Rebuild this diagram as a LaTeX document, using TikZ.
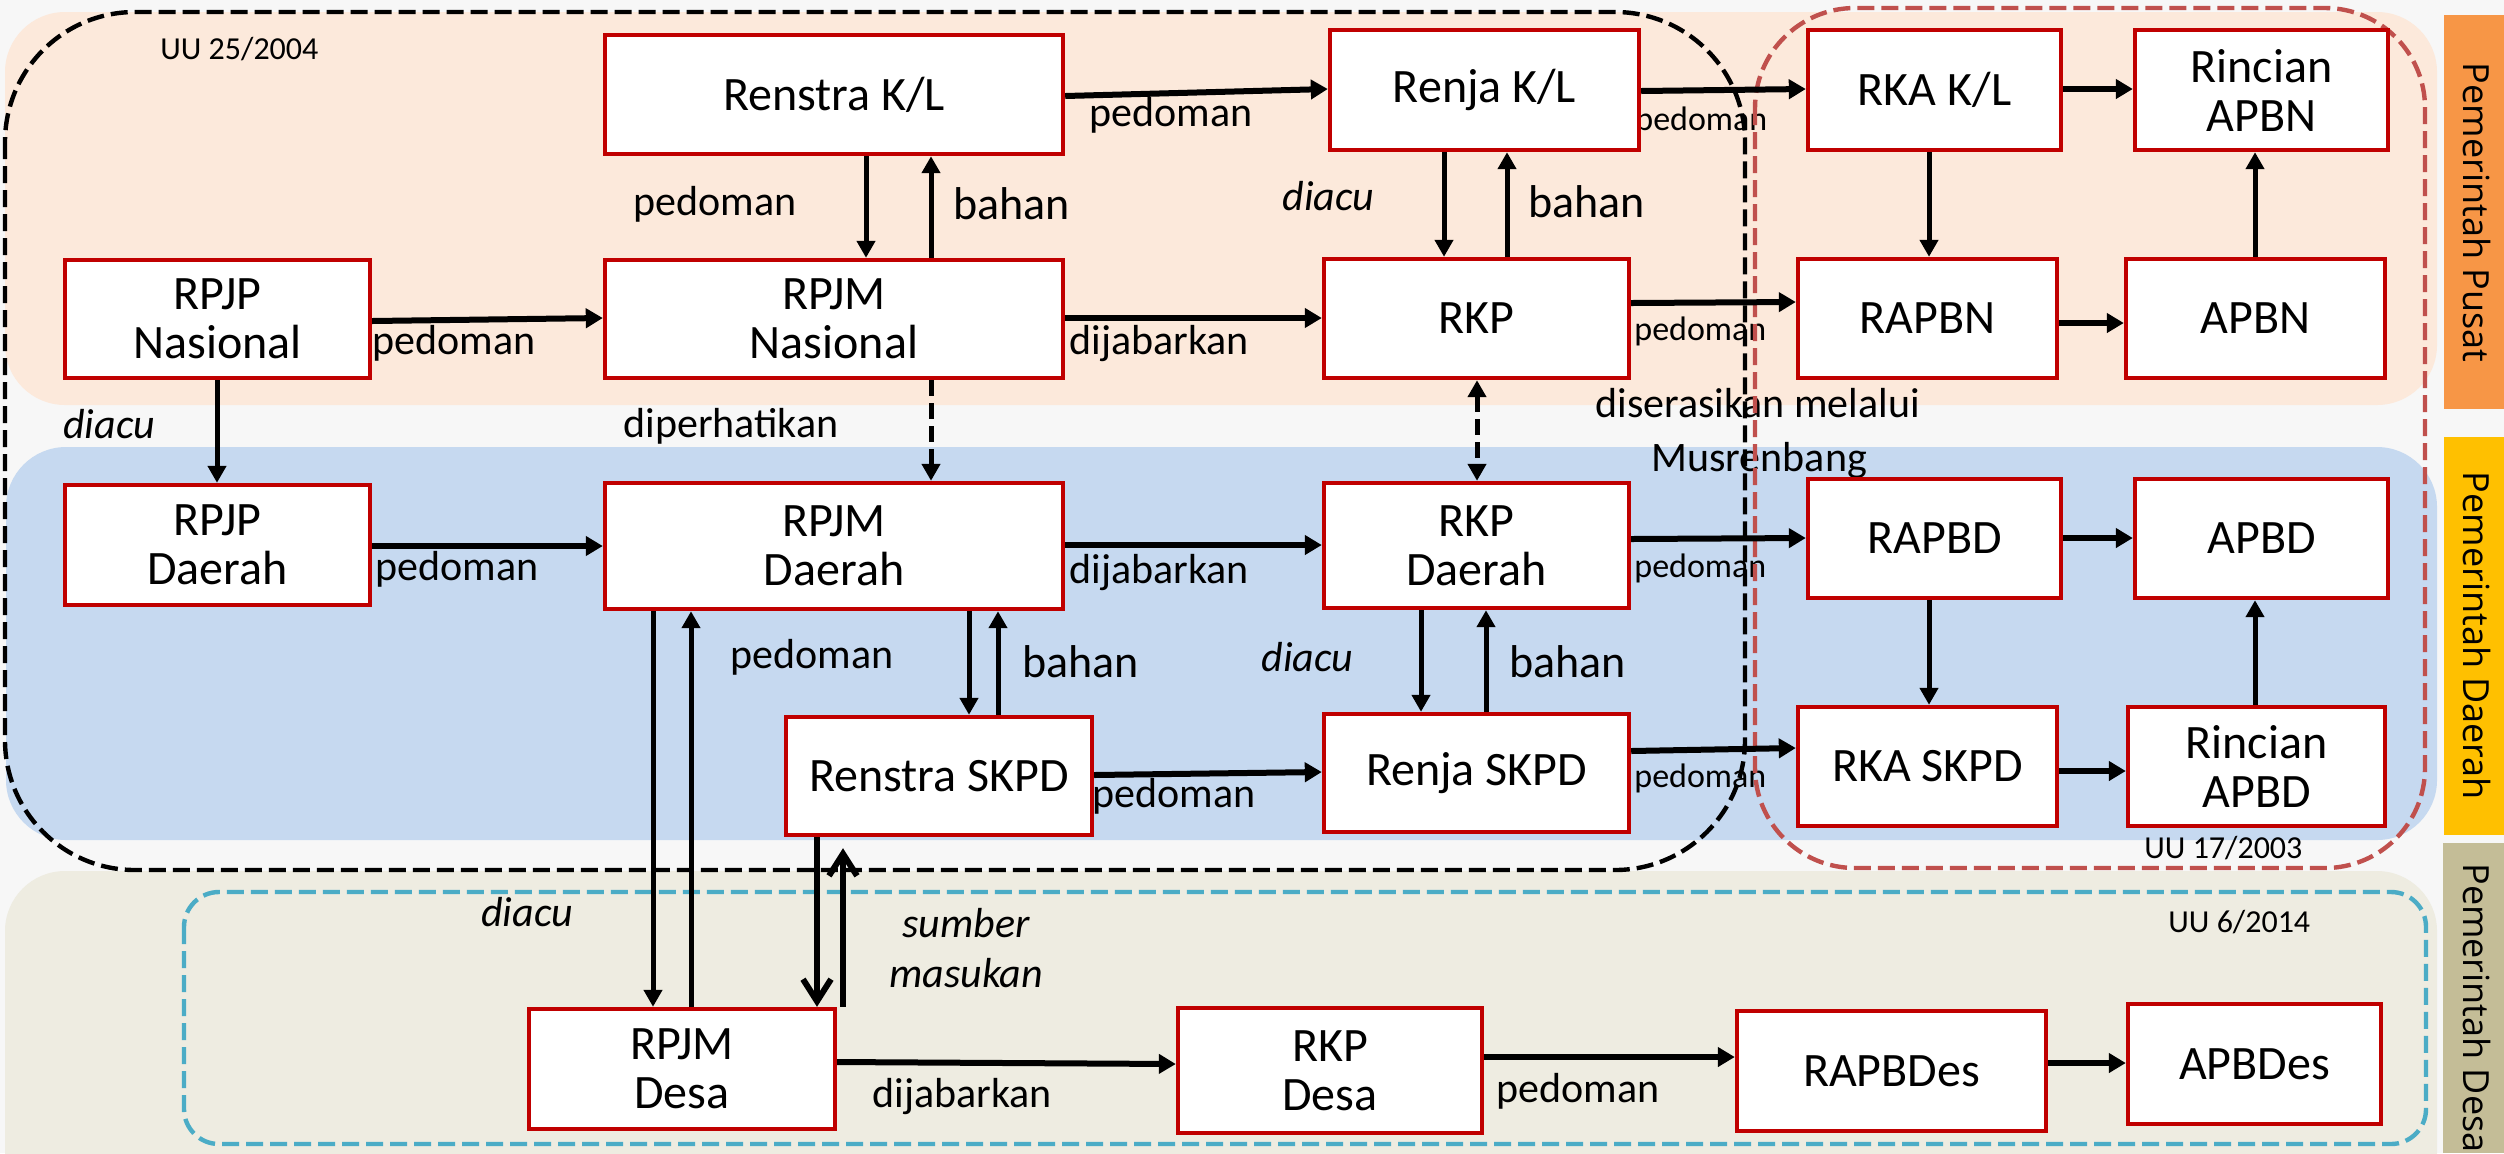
\documentclass[tikz,border=0pt]{standalone}
\usepackage{fontspec}
\setmainfont{Carlito}
\newfontfamily\sidefont{Open Sans}
\usetikzlibrary{arrows.meta}
\definecolor{bgc}{HTML}{F7F7F7}
\definecolor{peach}{HTML}{FCE9DB}
\definecolor{bluebg}{HTML}{C6D9F0}
\definecolor{beige}{HTML}{EEECE1}
\definecolor{orangeS}{HTML}{F79646}
\definecolor{yellowS}{HTML}{FFC000}
\definecolor{tanS}{HTML}{C4BD97}
\definecolor{boxred}{HTML}{C00000}
\definecolor{redframe}{HTML}{C0504D}
\definecolor{cyanframe}{HTML}{4BACC6}
\begin{document}
\begin{tikzpicture}[x=0.5pt,y=-0.5pt,
  box/.style={draw=boxred, line width=2.2pt, fill=white, align=center, inner sep=0pt,
    font=\fontsize{24}{24.5}\selectfont},
  lab/.style={inner sep=0pt, anchor=base west, font=\fontsize{21}{24}\selectfont},
  labsm/.style={lab, font=\fontsize{17}{19}\selectfont},
  labbh/.style={lab, font=\fontsize{23}{24}\selectfont},
  labit/.style={lab, font=\fontsize{21}{24}\selectfont\itshape},
  labuu/.style={lab, font=\fontsize{16}{18}\selectfont},
  side/.style={inner sep=0pt, rotate=-90, font=\sidefont\fontsize{18}{20}\selectfont},
  arr/.style={line width=2.5pt, -{Triangle[length=8.5pt,width=9pt]}},
  thk/.style={line width=3pt, -{Triangle[length=8.5pt,width=9.5pt]}},
  darr/.style={arr, dash pattern=on 8pt off 3.5pt},
  barb/.style={line width=3pt, -{Straight Barb[length=11pt,width=14pt]}},
  frame/.style={line width=2.2pt, dash pattern=on 8.5pt off 3.5pt}
]
\useasboundingbox (0,0) rectangle (2504,1153);
\clip (0,0) rectangle (2504,1153);
% backgrounds
\fill[bgc] (0,0) rectangle (2504,1153);
\fill[peach, rounded corners=30pt] (5,12) rectangle (2437,405);
\fill[bluebg, rounded corners=30pt] (6,447) rectangle (2437,840);
\fill[beige, rounded corners=30pt] (5,871) rectangle (2437,1220);
\fill[orangeS] (2444,15) rectangle (2504,409);
\fill[yellowS] (2444,437) rectangle (2504,835);
\fill[tanS] (2443,843) rectangle (2504,1153);
\node[side] (sPusat) at (2477,212.5) {Pemerintah Pusat};
\node[side] (sDaerah) at (2477,636) {Pemerintah Daerah};
\node[side] (sDesa) at (2477,1008) {Pemerintah Desa};

% labels
\node[labuu] (l1) at (160,59) {UU 25/2004};
\node[lab] (l2) at (1089,126) {pedoman};
\node[labsm] (l3) at (1635,130) {pedoman};
\node[lab] (l4) at (633,215) {pedoman};
\node[labbh] (l5) at (953,219) {bahan};
\node[labit] (l6) at (1282,210) {diacu};
\node[labbh] (l7) at (1528,217) {bahan};
\node[lab] (l8) at (372,354) {pedoman};
\node[lab] (l9) at (1069,354) {dijabarkan};
\node[labsm] (l10) at (1634,340) {pedoman};
\node[labit] (l11) at (63,438) {diacu};
\node[lab] (l12) at (623,437) {diperhatikan};
\node[lab] (l13) at (1595,417) {diserasikan melalui};
\node[lab] (l14) at (1651,471) {Musrenbang};
\node[lab] (l15) at (375,580) {pedoman};
\node[lab] (l16) at (1069,583) {dijabarkan};
\node[labsm] (l17) at (1634,577) {pedoman};
\node[lab] (l18) at (730,668) {pedoman};
\node[labbh] (l19) at (1022,677) {bahan};
\node[labit] (l20) at (1261,671) {diacu};
\node[labbh] (l21) at (1509,677) {bahan};
\node[lab] (l22) at (1092,807) {pedoman};
\node[labsm] (l23) at (1634,787) {pedoman};
\node[labuu] (l24) at (2144,858) {UU 17/2003};
\node[labit] (l25) at (481,926) {diacu};
\node[labit] (l26) at (902,937) {sumber};
\node[labit] (l27) at (889,987) {masukan};
\node[labuu] (l28) at (2168,932) {UU 6/2014};
\node[lab] (l29) at (872,1107) {dijabarkan};
\node[lab] (l30) at (1496,1102) {pedoman};

% dashed frames
\draw[frame, black, rounded corners=65pt] (5,12) rectangle (1745,870);
\draw[frame, redframe, rounded corners=50pt] (1755,8) rectangle (2425,868);
\draw[frame, cyanframe, rounded corners=17.5pt] (184,892) rectangle (2426,1144);

% boxes
\node[box, minimum width=229pt, minimum height=59.5pt] (renstraKL) at (834,94.5) {Renstra K/L};
\node[box, minimum width=154.5pt, minimum height=60pt] (renjaKL) at (1484.5,90) {Renja K/L};
\node[box, minimum width=126.5pt, minimum height=60pt] (rkaKL) at (1934.5,90) {RKA K/L};
\node[box, minimum width=126.5pt, minimum height=60pt] (rincianAPBN) at (2261.5,90) {Rincian\\APBN};
\node[box, minimum width=152.5pt, minimum height=59pt] (rpjpNas) at (217.5,319) {RPJP\\Nasional};
\node[box, minimum width=229pt, minimum height=59pt] (rpjmNas) at (834,319) {RPJM\\Nasional};
\node[box, minimum width=152.5pt, minimum height=59.5pt] (rkp) at (1476.5,318.5) {RKP};
\node[box, minimum width=129.5pt, minimum height=59.5pt] (rapbn) at (1927.5,318.5) {RAPBN};
\node[box, minimum width=129.5pt, minimum height=59.5pt] (apbn) at (2255.5,318.5) {APBN};
\node[box, minimum width=152.5pt, minimum height=60pt] (rpjpDae) at (217.5,545) {RPJP\\Daerah};
\node[box, minimum width=229pt, minimum height=63pt] (rpjmDae) at (834,546) {RPJM\\Daerah};
\node[box, minimum width=152.5pt, minimum height=62.5pt] (rkpDae) at (1476.5,545.5) {RKP\\Daerah};
\node[box, minimum width=126.5pt, minimum height=59.5pt] (rapbd) at (1934.5,538.5) {RAPBD};
\node[box, minimum width=126.5pt, minimum height=59.5pt] (apbd) at (2261.5,538.5) {APBD};
\node[box, minimum width=153pt, minimum height=59pt] (renstraSKPD) at (939,776) {Renstra SKPD};
\node[box, minimum width=152.5pt, minimum height=59pt] (renjaSKPD) at (1476.5,773) {Renja SKPD};
\node[box, minimum width=129.5pt, minimum height=59.5pt] (rkaSKPD) at (1927.5,766.5) {RKA SKPD};
\node[box, minimum width=128.5pt, minimum height=59.5pt] (rincianAPBD) at (2256.5,766.5) {Rincian\\APBD};
\node[box, minimum width=153pt, minimum height=60pt] (rpjmDesa) at (682,1069) {RPJM\\Desa};
\node[box, minimum width=152pt, minimum height=62.5pt] (rkpDesa) at (1330,1070.5) {RKP\\Desa};
\node[box, minimum width=154.5pt, minimum height=60pt] (rapbdes) at (1891.5,1071) {RAPBDes};
\node[box, minimum width=126.5pt, minimum height=60pt] (apbdes) at (2254.5,1064) {APBDes};

% connectors
\draw[thk] ([yshift=-0.75pt]renstraKL.east) -- ([yshift=0.5pt]renjaKL.west);
\draw[thk] ([yshift=-0.5pt]renjaKL.east) -- ([yshift=0.5pt]rkaKL.west);
\draw[thk] ([yshift=0.5pt]rkaKL.east) -- ([yshift=0.5pt]rincianAPBN.west);
\draw[arr] ([xshift=16pt]renstraKL.south) -- ([xshift=16pt]rpjmNas.north);
\draw[arr] ([xshift=48.5pt]rpjmNas.north) -- ([xshift=48.5pt]renstraKL.south);
\draw[arr] ([xshift=-20.25pt]renjaKL.south) -- ([xshift=-16.25pt]rkp.north);
\draw[arr] ([xshift=15.25pt]rkp.north) -- ([xshift=11.25pt]renjaKL.south);
\draw[arr] ([xshift=-2.75pt]rkaKL.south) -- ([xshift=0.75pt]rapbn.north);
\draw[arr] ([xshift=-0.25pt]apbn.north) -- ([xshift=-3.25pt]rincianAPBN.south);
\draw[thk] ([yshift=-1pt]rpjpNas.east) -- ([yshift=0.5pt]rpjmNas.west);
\draw[thk] ([yshift=0.5pt]rpjmNas.east) -- ([yshift=0.25pt]rkp.west);
\draw[thk] ([yshift=7.75pt]rkp.east) -- ([yshift=8.25pt]rapbn.west);
\draw[thk] ([yshift=-2.25pt]rapbn.east) -- ([yshift=-2.25pt]apbn.west);
\draw[arr] ([xshift=-0.25pt]rpjpNas.south) -- ([xshift=-0.25pt]rpjpDae.north);
\draw[darr] ([xshift=48.5pt]rpjmNas.south) -- ([xshift=48.5pt]rpjmDae.north);
\draw[darr, {Triangle[length=8.5pt,width=9pt]}-{Triangle[length=8.5pt,width=9pt]}] ([xshift=0.25pt]rkp.south) -- ([xshift=0.25pt]rkpDae.north);
\draw[thk] ([yshift=-0.5pt]rpjpDae.east) -- (rpjmDae.west);
\draw[thk] ([yshift=0.5pt]rpjmDae.east) -- ([yshift=0.25pt]rkpDae.west);
\draw[thk] ([yshift=3.25pt]rkpDae.east) -- ([yshift=0.25pt]rapbd.west);
\draw[thk] ([yshift=0.25pt]rapbd.east) -- ([yshift=0.25pt]apbd.west);
\draw[arr] ([xshift=-2.75pt]rapbd.south) -- ([xshift=0.75pt]rkaSKPD.north);
\draw[arr] ([xshift=-0.75pt]rincianAPBD.north) -- ([xshift=-3.25pt]apbd.south);
\draw[arr] ([xshift=-27.75pt]rkpDae.south) -- ([xshift=-27.75pt]renjaSKPD.north);
\draw[arr] ([xshift=4.75pt]renjaSKPD.north) -- ([xshift=4.75pt]rkpDae.south);
\draw[arr] ([xshift=67.5pt]rpjmDae.south) -- ([xshift=15pt]renstraSKPD.north);
\draw[arr] ([xshift=29.5pt]renstraSKPD.north) -- ([xshift=82pt]rpjmDae.south);
\draw[thk] ([yshift=0.5pt]renstraSKPD.east) -- ([yshift=0.5pt]renjaSKPD.west);
\draw[thk] ([yshift=11pt]renjaSKPD.east) -- ([yshift=9.25pt]rkaSKPD.west);
\draw[thk] ([yshift=-2.25pt]rkaSKPD.east) -- ([yshift=-2.25pt]rincianAPBD.west);
\draw[arr] ([xshift=-90.5pt]rpjmDae.south) -- ([xshift=-14.5pt]rpjmDesa.north);
\draw[arr] ([xshift=4.5pt]rpjmDesa.north) -- ([xshift=-71.5pt]rpjmDae.south);
\draw[barb] ([xshift=-61pt]renstraSKPD.south) -- ([xshift=67.5pt]rpjmDesa.north);
\draw[barb] ([xshift=80.5pt]rpjmDesa.north) -- ([xshift=-48pt,yshift=-5.5pt]renstraSKPD.south);
\draw[thk] ([yshift=3.5pt]rpjmDesa.east) -- ([yshift=3.25pt]rkpDesa.west);
\draw[thk] ([yshift=6.75pt]rkpDesa.east) -- ([yshift=7pt]rapbdes.west);
\draw[thk] ([yshift=4pt]rapbdes.east) -- ([yshift=0.5pt]apbdes.west);
\end{tikzpicture}
\end{document}
